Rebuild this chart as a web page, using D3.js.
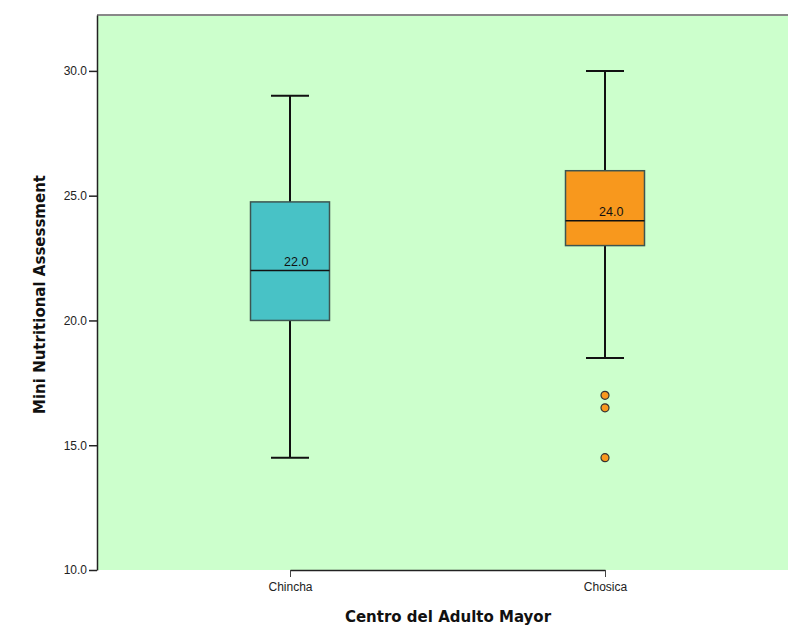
<!DOCTYPE html>
<html>
<head>
<meta charset="utf-8">
<script src="https://cdn.jsdelivr.net/npm/d3@7"></script>
<style>
  body { margin: 0; background: #fff; }
  svg { display: block; font-family: "Liberation Sans", Arial, sans-serif; }
</style>
</head>
<body>
<div id="chart"></div>
<script>
// data
const groups = ["Chincha", "Chosica"];
const whiskerLow = [14.5, 18.5];
const q1 = [20.0, 23.0];
const median = [22.0, 24.0];
const q3 = [24.75, 26.0];
const whiskerHigh = [29.0, 30.0];
const outliers = [[], [17.0, 16.5, 14.5]];
const boxColors = ["#48C2C6", "#F8981D"];
const yTicks = [10, 15, 20, 25, 30];

const width = 788, height = 626;
const margin = {top: 15, right: 0, bottom: 56, left: 97};
const w = width - margin.left - margin.right;
const h = height - margin.top - margin.bottom;

const svg = d3.select("#chart").append("svg")
    .attr("width", width)
    .attr("height", height);

const g = svg.append("g")
    .attr("transform", "translate(" + margin.left + "," + margin.top + ")");

const y = d3.scaleLinear()
    .domain([10, 32.24])
    .range([h, 0]);

const x = d3.scalePoint()
    .domain(groups)
    .range([193, 508]);

// plot background
g.append("rect")
    .attr("width", w)
    .attr("height", h)
    .attr("fill", "#CCFFCC");

// top border
g.append("line")
    .attr("x1", 0).attr("x2", w)
    .attr("y1", 0).attr("y2", 0)
    .attr("stroke", "#888")
    .attr("stroke-width", 2);

// axes
const yAxis = g.append("g")
    .call(d3.axisLeft(y).tickValues(yTicks).tickFormat(d3.format(".1f"))
        .tickSize(8).tickSizeOuter(0).tickPadding(2));
yAxis.select(".domain").attr("stroke", "#222").attr("stroke-width", 1.5);
yAxis.selectAll(".tick line").attr("stroke", "#222").attr("stroke-width", 1.5);
yAxis.selectAll("text").attr("fill", "#222").style("font-size", "12px");

const xAxis = g.append("g")
    .attr("transform", "translate(0," + h + ")")
    .call(d3.axisBottom(x).tickSize(7).tickPadding(5).tickSizeOuter(0));
xAxis.select(".domain").attr("stroke", "#222").attr("stroke-width", 1.5);
xAxis.selectAll(".tick line").attr("stroke", "#444").attr("stroke-width", 1);
xAxis.selectAll("text").attr("fill", "#222").style("font-size", "12px");

const boxW = 79, capW = 38;

const box = g.selectAll(".box")
    .data(groups)
    .join("g")
    .attr("class", "box")
    .attr("transform", d => "translate(" + x(d) + ",0)");

// whisker stems
box.append("line")
    .attr("y1", (d, i) => y(whiskerLow[i]))
    .attr("y2", (d, i) => y(q1[i]))
    .attr("stroke", "#111").attr("stroke-width", 2);
box.append("line")
    .attr("y1", (d, i) => y(q3[i]))
    .attr("y2", (d, i) => y(whiskerHigh[i]))
    .attr("stroke", "#111").attr("stroke-width", 2);

// caps
box.append("line")
    .attr("x1", -capW / 2).attr("x2", capW / 2)
    .attr("y1", (d, i) => y(whiskerLow[i]))
    .attr("y2", (d, i) => y(whiskerLow[i]))
    .attr("stroke", "#111").attr("stroke-width", 2);
box.append("line")
    .attr("x1", -capW / 2).attr("x2", capW / 2)
    .attr("y1", (d, i) => y(whiskerHigh[i]))
    .attr("y2", (d, i) => y(whiskerHigh[i]))
    .attr("stroke", "#111").attr("stroke-width", 2);

// boxes
box.append("rect")
    .attr("x", -boxW / 2)
    .attr("width", boxW)
    .attr("y", (d, i) => y(q3[i]))
    .attr("height", (d, i) => y(q1[i]) - y(q3[i]))
    .attr("fill", (d, i) => boxColors[i])
    .attr("stroke", "#3d5550")
    .attr("stroke-width", 1.5);

// median
box.append("line")
    .attr("x1", -boxW / 2).attr("x2", boxW / 2)
    .attr("y1", (d, i) => y(median[i]))
    .attr("y2", (d, i) => y(median[i]))
    .attr("stroke", "#111").attr("stroke-width", 1.5);

box.append("text")
    .attr("x", -6)
    .attr("y", (d, i) => y(median[i]) - 5)
    .attr("fill", "#111")
    .style("font-size", "12.5px")
    .text((d, i) => d3.format(".1f")(median[i]));

// outliers
box.each(function(d, i) {
    d3.select(this).selectAll("circle")
        .data(outliers[i])
        .join("circle")
        .attr("cy", v => y(v))
        .attr("r", 4)
        .attr("fill", boxColors[i])
        .attr("stroke", "#333")
        .attr("stroke-width", 1.2);
});

// axis titles
svg.append("text")
    .attr("x", margin.left + 351)
    .attr("y", 622)
    .attr("text-anchor", "middle")
    .style("font-family", "'DejaVu Sans', sans-serif")
    .style("font-size", "15px")
    .style("font-weight", "bold")
    .attr("fill", "#111")
    .text("Centro del Adulto Mayor");

svg.append("text")
    .attr("transform", "translate(45," + (margin.top + h / 2 + 2) + ") rotate(-90)")
    .attr("text-anchor", "middle")
    .style("font-family", "'DejaVu Sans', sans-serif")
    .style("font-size", "15px")
    .style("font-weight", "bold")
    .attr("fill", "#111")
    .text("Mini Nutritional Assessment");
</script>
</body>
</html>
